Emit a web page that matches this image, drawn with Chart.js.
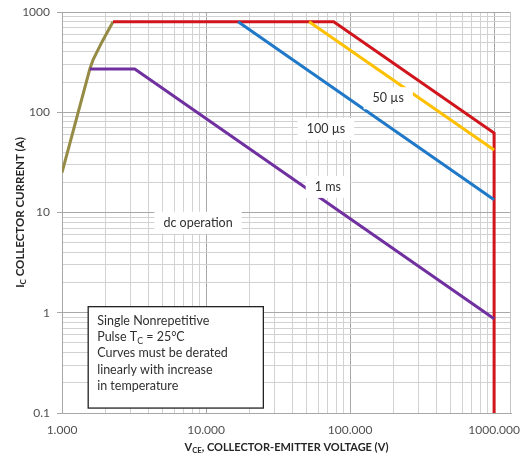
<!DOCTYPE html>
<html>
<head>
<meta charset="utf-8">
<script src="https://cdn.jsdelivr.net/npm/chart.js@4.4.0/dist/chart.umd.min.js"></script>
<style>
html, body { margin: 0; padding: 0; background: #fff; }
#wrap { width: 522px; height: 460px; }
</style>
</head>
<body>
<div id="wrap"><canvas id="soaChart"></canvas></div>
<script>
// safe operating area
var rise_v = [1, 1.56, 1.64, 1.89, 2.26];
var rise_i = [25, 270, 331, 500, 800];
var red_v = [2.26, 77, 1000, 1000];
var red_i = [800, 800, 62, 0.1];
var yellow_v = [52, 1000];
var yellow_i = [800, 42];
var blue_v = [16.7, 1000];
var blue_i = [800, 13.4];
var purple_v = [1.56, 3.2, 1000];
var purple_i = [270, 270, 0.87];

var curveLabels = ['50 µs', '100 µs', '1 ms', 'dc operation'];
var labelV = [184, 68, 70, 8.8];
var labelI = [138, 68, 18, 7.9];

var xMajor = [1, 10, 100, 1000];
var xTickLabels = ['1.000', '10.000', '100.000', '1000.000'];
var yMajor = [0.1, 1, 10, 100, 1000];
var yTickLabels = ['0.1', '1', '10', '100', '1000'];

var noteLines = [
  [['Single Nonrepetitive']],
  [['Pulse T'], ['C', 'sub'], [' = 25°C']],
  [['Curves must be derated']],
  [['linearly with increase']],
  [['in temperature']]
];
var xTitle = [['V'], ['CE', 'sub'], [', COLLECTOR-EMITTER VOLTAGE (V)']];
var yTitle = [['I'], ['C', 'sub'], [' COLLECTOR CURRENT (A)']];

function pts(xs, ys) {
  return xs.map(function (x, i) { return { x: x, y: ys[i] }; });
}

function logTicks(lo, hi) {
  var out = [];
  for (var e = -1; e <= 3; e++) {
    for (var m = 1; m <= 9; m++) {
      var v = Number((m * Math.pow(10, e)).toPrecision(6));
      if (v >= lo && v <= hi) out.push({ value: v });
    }
  }
  return out;
}

function isMajor(v) {
  var l = Math.log10(v);
  return Math.abs(l - Math.round(l)) < 1e-6;
}

var FAM = 'Lato, "Open Sans", sans-serif';

function richWidth(ctx, parts, size, weight) {
  var w = 0;
  parts.forEach(function (p) {
    var s = p[1] === 'sub' ? size * 0.7 : size;
    ctx.font = weight + ' ' + s + 'px ' + FAM;
    w += ctx.measureText(p[0]).width;
  });
  return w;
}

function drawRich(ctx, parts, x, y, size, weight) {
  ctx.textAlign = 'left';
  ctx.textBaseline = 'middle';
  parts.forEach(function (p) {
    var sub = p[1] === 'sub';
    var s = sub ? size * 0.7 : size;
    ctx.font = weight + ' ' + s + 'px ' + FAM;
    ctx.fillText(p[0], x, sub ? y + size * 0.3 : y);
    x += ctx.measureText(p[0]).width;
  });
}

var soaDecor = {
  id: 'soaDecor',
  afterDatasetsDraw: function (chart) {
    var ctx = chart.ctx, xs = chart.scales.x, ys = chart.scales.y, a = chart.chartArea;
    ctx.save();

    // right frame line
    ctx.strokeStyle = '#c4c4c4';
    ctx.lineWidth = 1;
    ctx.beginPath();
    ctx.moveTo(a.right - 0.5, a.top);
    ctx.lineTo(a.right - 0.5, a.bottom);
    ctx.stroke();

    // curve labels on white
    ctx.font = '12.5px ' + FAM;
    ctx.textAlign = 'center';
    ctx.textBaseline = 'middle';
    curveLabels.forEach(function (t, i) {
      var px = xs.getPixelForValue(labelV[i]);
      var py = ys.getPixelForValue(labelI[i]);
      var w = ctx.measureText(t).width + 18;
      ctx.fillStyle = '#fff';
      ctx.fillRect(px - w / 2, py - 11, w, 22);
      ctx.fillStyle = '#303030';
      ctx.fillText(t, px, py);
    });

    // note box
    var bx0 = xs.getPixelForValue(1.52), bx1 = xs.getPixelForValue(25);
    var by0 = ys.getPixelForValue(1.15), by1 = ys.getPixelForValue(0.112);
    ctx.fillStyle = '#fff';
    ctx.fillRect(bx0, by0, bx1 - bx0, by1 - by0);
    ctx.strokeStyle = '#222';
    ctx.lineWidth = 1.3;
    ctx.strokeRect(bx0, by0, bx1 - bx0, by1 - by0);
    ctx.fillStyle = '#303030';
    noteLines.forEach(function (ln, i) {
      drawRich(ctx, ln, bx0 + 9, by0 + 14 + i * 16.3, 12.5, 'normal');
    });

    // axis titles
    ctx.fillStyle = '#262626';
    var tw = richWidth(ctx, xTitle, 11, 'bold');
    drawRich(ctx, xTitle, (a.left + a.right) / 2 - tw / 2, 447, 11, 'bold');
    var th = richWidth(ctx, yTitle, 11.5, 'bold');
    ctx.translate(20, (a.top + a.bottom) / 2);
    ctx.rotate(-Math.PI / 2);
    drawRich(ctx, yTitle, -th / 2, 0, 11.5, 'bold');

    ctx.restore();
  }
};

var lineStyle = { showLine: true, fill: false, pointRadius: 0, borderWidth: 3, tension: 0 };

new Chart(document.getElementById('soaChart'), {
  type: 'scatter',
  data: {
    datasets: [
      Object.assign({ data: pts(purple_v, purple_i), borderColor: '#7030a0' }, lineStyle),
      Object.assign({ data: pts(blue_v, blue_i), borderColor: '#1f78c8' }, lineStyle),
      Object.assign({ data: pts(yellow_v, yellow_i), borderColor: '#ffc000' }, lineStyle),
      Object.assign({ data: pts(red_v, red_i), borderColor: '#d0151c' }, lineStyle),
      Object.assign({ data: pts(rise_v, rise_i), borderColor: '#958b45' }, lineStyle)
    ]
  },
  options: {
    responsive: true,
    maintainAspectRatio: false,
    animation: false,
    layout: { padding: { top: 12, right: 11, left: 0, bottom: 0 } },
    plugins: { legend: { display: false }, tooltip: { enabled: false } },
    scales: {
      x: {
        type: 'logarithmic',
        min: 1,
        max: 1310,
        afterBuildTicks: function (s) { s.ticks = logTicks(1, 1000); },
        afterFit: function (s) { s.height = 47; s.paddingLeft = 0; s.paddingRight = 0; },
        grid: {
          color: function (c) { return c.tick && isMajor(c.tick.value) ? '#a8a8a8' : '#d2d2d2'; },
          drawTicks: false
        },
        border: { color: '#a8a8a8' },
        ticks: {
          autoSkip: false,
          maxRotation: 0,
          padding: 10,
          color: '#505050',
          font: { family: FAM, size: 12 },
          callback: function (v) {
            var k = xMajor.indexOf(v);
            return k >= 0 ? xTickLabels[k] : '';
          }
        }
      },
      y: {
        type: 'logarithmic',
        min: 0.1,
        max: 1000,
        afterBuildTicks: function (s) { s.ticks = logTicks(0.1, 1000); },
        afterFit: function (s) { s.width = 62; s.paddingTop = 0; s.paddingBottom = 0; },
        grid: {
          color: function (c) { return c.tick && isMajor(c.tick.value) ? '#a8a8a8' : '#d2d2d2'; },
          tickColor: function (c) { return c.tick && isMajor(c.tick.value) ? '#a8a8a8' : 'rgba(0,0,0,0)'; },
          tickLength: 5
        },
        border: { color: '#a8a8a8' },
        ticks: {
          autoSkip: false,
          padding: 7,
          color: '#505050',
          font: { family: FAM, size: 12 },
          callback: function (v) {
            var k = yMajor.indexOf(v);
            return k >= 0 ? yTickLabels[k] : '';
          }
        }
      }
    }
  },
  plugins: [soaDecor]
});
</script>
</body>
</html>
